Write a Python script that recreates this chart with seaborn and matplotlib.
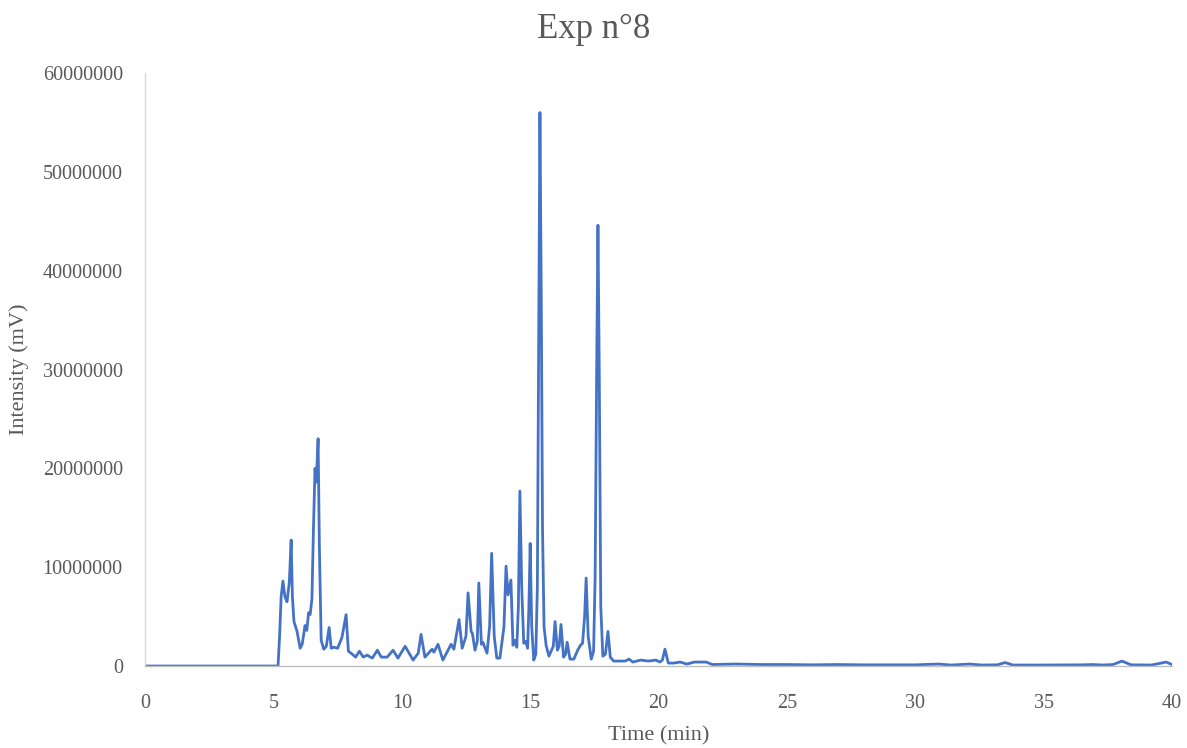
import numpy as np
import pandas as pd
import seaborn as sns
import matplotlib
matplotlib.use("Agg")
import matplotlib.pyplot as plt

# retention time (min) and intensity (millions of mV)
time_min = [
    0.0, 5.18, 5.24, 5.30, 5.37, 5.45, 5.53, 5.62, 5.69, 5.74, 5.80, 5.92, 6.04, 6.12,
    6.23, 6.30, 6.37, 6.43, 6.50, 6.56, 6.62, 6.67, 6.74, 6.79, 6.86, 6.96, 7.06,
    7.17, 7.25, 7.35, 7.50, 7.67, 7.83, 7.92, 8.07, 8.20, 8.35, 8.50, 8.65, 8.85,
    9.05, 9.20, 9.43, 9.66, 9.85, 10.13, 10.44, 10.64, 10.75, 10.90, 11.18, 11.25,
    11.41, 11.60, 11.92, 12.03, 12.23, 12.35, 12.50, 12.58, 12.70, 12.75, 12.85,
    12.94, 13.00, 13.10, 13.16, 13.20, 13.32, 13.42, 13.50, 13.60, 13.70, 13.82,
    13.98, 14.06, 14.14, 14.25, 14.33, 14.40, 14.48, 14.54, 14.60, 14.67, 14.75,
    14.83, 14.90, 14.95, 15.00, 15.06, 15.14, 15.22, 15.28, 15.33, 15.38, 15.43,
    15.48, 15.54, 15.62, 15.73, 15.90, 15.97, 16.06, 16.13, 16.20, 16.30, 16.38,
    16.44, 16.55, 16.70, 16.85, 16.96, 17.04, 17.12, 17.18, 17.26, 17.38, 17.47,
    17.53, 17.59, 17.64, 17.69, 17.75, 17.83, 17.93, 18.03, 18.12, 18.25, 18.50,
    18.70, 18.85, 19.00, 19.30, 19.60, 19.90, 20.05, 20.15, 20.25, 20.38, 20.60,
    20.84, 21.10, 21.40, 21.85, 22.10, 23.0, 24.0, 25.0, 26.0, 27.0, 28.0, 29.0,
    30.0, 30.9, 31.4, 32.1, 32.6, 33.2, 33.5, 33.8, 35.0, 36.5, 36.9, 37.3, 37.7,
    38.05, 38.4, 39.2, 39.77, 40.0,
]
intensity_m = [
    0.0, 0.0, 3.0, 7.0, 8.6, 7.0, 6.5, 8.5, 12.75, 7.0, 4.5, 3.5, 1.8, 2.2,
    4.1, 3.6, 5.4, 5.2, 6.8, 14.0, 20.0, 18.6, 23.0, 12.0, 2.6, 1.7, 2.0,
    3.9, 1.8, 1.9, 1.8, 2.9, 5.2, 1.5, 1.2, 0.9, 1.5, 0.9, 1.1, 0.8,
    1.6, 0.9, 0.9, 1.6, 0.8, 2.0, 0.6, 1.3, 3.2, 0.9, 1.7, 1.4,
    2.2, 0.6, 2.2, 1.7, 4.7, 1.8, 3.0, 7.4, 3.5, 3.3, 1.6,
    2.5, 8.4, 2.2, 2.4, 2.1, 1.3, 4.0, 11.4, 3.0, 0.8, 0.8,
    4.0, 10.1, 7.2, 8.7, 2.1, 2.6, 1.9, 6.0, 17.7, 8.0, 2.3,
    2.5, 1.8, 6.0, 12.4, 4.0, 0.6, 1.2, 8.0, 32.0, 56.0, 38.0,
    14.0, 4.0, 2.1, 1.0, 2.0, 4.5, 1.6, 2.0, 4.2, 0.9, 1.2,
    2.4, 0.7, 0.7, 1.6, 2.1, 2.3, 5.0, 8.9, 3.0, 0.7, 1.5,
    9.0, 30.0, 44.6, 30.0, 6.0, 1.0, 1.2, 3.5, 0.9, 0.5, 0.5,
    0.5, 0.7, 0.4, 0.6, 0.5, 0.6, 0.4, 0.6, 1.7, 0.3, 0.3,
    0.4, 0.2, 0.4, 0.4, 0.15, 0.2, 0.15, 0.15, 0.12, 0.15, 0.12, 0.12,
    0.12, 0.2, 0.1, 0.2, 0.1, 0.12, 0.35, 0.1, 0.1, 0.12, 0.15, 0.1, 0.15,
    0.5, 0.12, 0.1, 0.4, 0.15,
]

df = pd.DataFrame({"Time (min)": time_min,
                   "Intensity (mV)": np.array(intensity_m) * 1e6})

sns.set_theme(style="white")
plt.rcParams["font.family"] = ["Liberation Serif", "DejaVu Serif"]

text_color = "#595959"
fig = plt.figure(figsize=(11.87, 7.48), dpi=100)
ax = fig.add_axes([0.1222, 0.1096, 0.8652, 0.7928])

sns.lineplot(data=df, x="Time (min)", y="Intensity (mV)", ax=ax,
             color="#4472C4", linewidth=2.0)

ax.set_xlim(0, 40)
ax.set_ylim(0, 60000000)
ax.set_xticks(range(0, 41, 5))
ax.set_yticks(range(0, 60000001, 10000000))
ax.set_yticklabels([str(v) for v in range(0, 60000001, 10000000)])

ax.tick_params(axis="both", length=0, labelsize=14.5, labelcolor=text_color)
ax.tick_params(axis="x", pad=20)
ax.tick_params(axis="y", pad=16)

ax.set_xlabel("Time (min)", fontsize=16, color=text_color, labelpad=10)
ax.set_ylabel("Intensity (mV)", fontsize=16, color=text_color, labelpad=10)
fig.suptitle("Exp n°8", fontsize=25, color=text_color, x=0.5, y=0.96, va="center")

for side in ["top", "right"]:
    ax.spines[side].set_visible(False)
ax.spines["left"].set_color("#D9D9D9")
ax.spines["bottom"].set_color("#BFBFBF")
ax.spines["left"].set_linewidth(1.0)
ax.spines["bottom"].set_linewidth(1.0)
ax.grid(False)

fig.savefig("out.png", dpi=100)
